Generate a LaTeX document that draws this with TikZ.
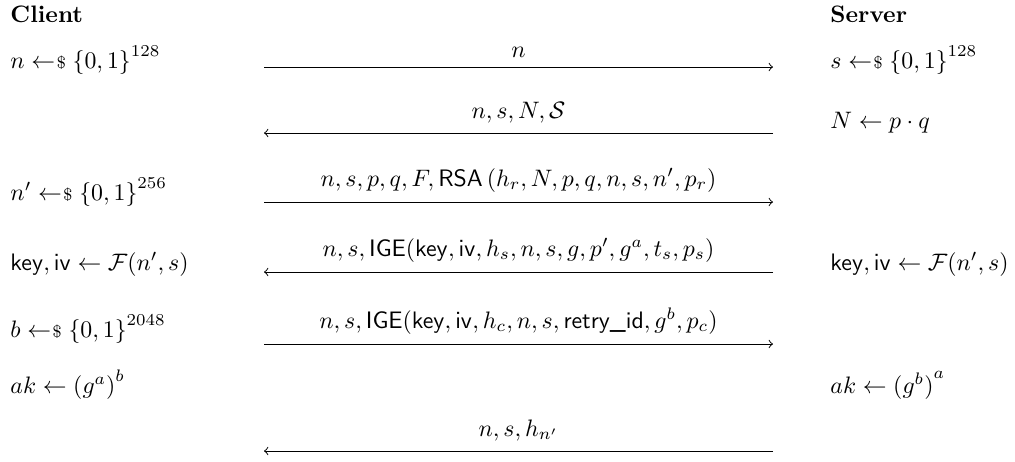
\documentclass[tikz,border=0pt]{standalone}
\usepackage{amsmath}
\usepackage{amssymb}
\newcommand{\smpl}{\mathrel{\leftarrow\mkern-4mu{\scriptstyle\$}}}
\begin{document}
\begin{tikzpicture}[x=0.42pt,y=-0.42pt,
  party/.style={anchor=base west,inner sep=0pt},
  msg/.style={->},
  lbl/.style={above,inner sep=4pt}]
\useasboundingbox (0,0) rectangle (1015,461);
% headings
\node[party] (cli) at (10,22) {\textbf{Client}};
\node[party] (srv) at (830,22) {\textbf{Server}};
% client side
\node[party] (c1) at (10,68) {$n \smpl {\{0,1\}}^{128}$};
\node[party] (c3) at (10,200) {$n' \smpl {\{0,1\}}^{256}$};
\node[party] (c4) at (10,270) {$\mathsf{key}, \mathsf{iv} \leftarrow \mathcal{F}(n', s)$};
\node[party] (c5) at (10,337) {$b \smpl {\{0,1\}}^{2048}$};
\node[party] (c6) at (10,393) {$ak \leftarrow {(g^a)}^b$};
% server side
\node[party] (s1) at (830,68) {$s \smpl {\{0,1\}}^{128}$};
\node[party] (s2) at (830,128) {$N \leftarrow p \cdot q$};
\node[party] (s4) at (830,270) {$\mathsf{key}, \mathsf{iv} \leftarrow \mathcal{F}(n', s)$};
\node[party] (s6) at (830,393) {$ak \leftarrow {(g^b)}^a$};
% messages
\coordinate (l1) at (264,67);  \coordinate (r1) at (773,67);
\coordinate (l2) at (264,133); \coordinate (r2) at (773,133);
\coordinate (l3) at (264,202); \coordinate (r3) at (773,202);
\coordinate (l4) at (264,272); \coordinate (r4) at (773,272);
\coordinate (l5) at (264,344); \coordinate (r5) at (773,344);
\coordinate (l6) at (264,451); \coordinate (r6) at (773,451);
\draw[msg] (l1) -- (r1) node[lbl,midway] {$n$};
\draw[msg] (r2) -- (l2) node[lbl,midway] {$n, s, N, \mathcal{S}$};
\draw[msg] (l3) -- (r3) node[lbl,midway] {$n, s, p, q, F, \mathsf{RSA}\left(h_r, N, p, q, n, s, n', p_r\right)$};
\draw[msg] (r4) -- (l4) node[lbl,midway] {$n, s, \mathsf{IGE}(\mathsf{key}, \mathsf{iv}, h_s, n, s, g, p', g^a, t_s, p_s)$};
\draw[msg] (l5) -- (r5) node[lbl,midway] {$n, s, \mathsf{IGE}(\mathsf{key}, \mathsf{iv}, h_c, n, s, \textsf{retry\_id}, g^b, p_c)$};
\draw[msg] (r6) -- (l6) node[lbl,midway] {$n, s, h_{n'}$};
\end{tikzpicture}
\end{document}
